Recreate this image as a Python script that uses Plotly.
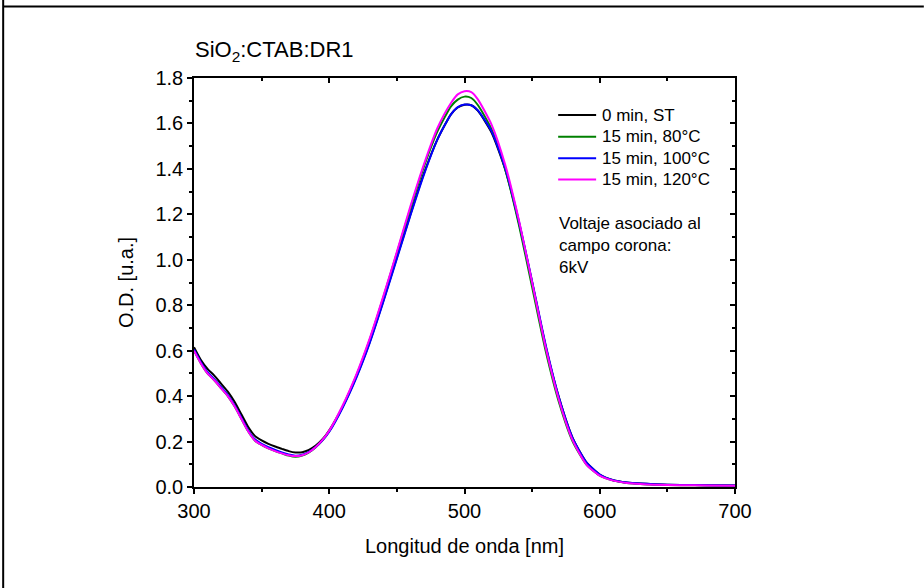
import plotly.graph_objects as go

wavelength = [300, 305, 310, 315, 320, 325, 330, 335, 340, 345, 350, 355, 360, 365, 370, 375,
              380, 385, 390, 395, 400, 410, 420, 430, 440, 450, 460, 470, 480, 490, 495, 500,
              505, 510, 520, 530, 540, 550, 560, 570, 580, 590, 600, 610, 620, 630, 640, 660,
              680, 700]

od_st = [0.615, 0.56, 0.52, 0.49, 0.455, 0.42, 0.375, 0.32, 0.265, 0.225, 0.205, 0.19, 0.178,
         0.168, 0.158, 0.152, 0.153, 0.163, 0.182, 0.21, 0.25, 0.355, 0.485, 0.64, 0.82, 1.01,
         1.2, 1.38, 1.53, 1.64, 1.67, 1.682, 1.68, 1.655, 1.56, 1.40, 1.17, 0.90, 0.62, 0.39,
         0.215, 0.11, 0.055, 0.03, 0.02, 0.015, 0.012, 0.009, 0.008, 0.007]

od_80 = [0.60, 0.545, 0.50, 0.47, 0.435, 0.40, 0.355, 0.30, 0.245, 0.205, 0.185, 0.17, 0.158,
         0.148, 0.138, 0.133, 0.138, 0.152, 0.175, 0.205, 0.245, 0.355, 0.49, 0.65, 0.835, 1.03,
         1.225, 1.41, 1.565, 1.675, 1.705, 1.718, 1.712, 1.68, 1.575, 1.40, 1.16, 0.88, 0.60,
         0.37, 0.20, 0.10, 0.05, 0.028, 0.018, 0.013, 0.01, 0.008, 0.007, 0.006]

od_100 = [0.605, 0.55, 0.505, 0.475, 0.44, 0.405, 0.36, 0.305, 0.25, 0.21, 0.19, 0.175, 0.163,
          0.152, 0.143, 0.138, 0.142, 0.155, 0.176, 0.205, 0.243, 0.35, 0.48, 0.635, 0.815,
          1.005, 1.195, 1.375, 1.53, 1.64, 1.672, 1.683, 1.68, 1.657, 1.565, 1.405, 1.175,
          0.905, 0.625, 0.39, 0.215, 0.11, 0.055, 0.03, 0.02, 0.015, 0.012, 0.009, 0.008, 0.007]

od_120 = [0.60, 0.545, 0.50, 0.47, 0.435, 0.40, 0.355, 0.30, 0.245, 0.205, 0.185, 0.17, 0.158,
          0.148, 0.14, 0.136, 0.14, 0.153, 0.176, 0.207, 0.248, 0.36, 0.495, 0.655, 0.84, 1.035,
          1.235, 1.42, 1.58, 1.69, 1.728, 1.742, 1.738, 1.705, 1.595, 1.42, 1.18, 0.90, 0.615,
          0.38, 0.205, 0.10, 0.05, 0.028, 0.018, 0.013, 0.01, 0.008, 0.007, 0.006]

series_names = ["0 min, ST", "15 min, 80°C", "15 min, 100°C", "15 min, 120°C"]
series_colors = ["#000000", "#008000", "#0000ff", "#ff00ff"]
series_values = [od_st, od_80, od_100, od_120]

FONT = "Liberation Sans, Arial, sans-serif"

fig = go.Figure()
for name, color, vals in zip(series_names, series_colors, series_values):
    fig.add_trace(go.Scatter(x=wavelength, y=vals, mode="lines", name=name,
                             line=dict(color=color, width=2, shape="spline", smoothing=0.6)))

# dummy trace for the mirrored (inward-tick) top and right axes
fig.add_trace(go.Scatter(x=[None], y=[None], xaxis="x2", yaxis="y2", showlegend=False,
                         hoverinfo="skip"))

W, H = 924, 588
L, R, T, B = 193.5, 189, 78, 101.3
pw, ph = W - L - R, H - T - B

def px(xp):
    return (xp - L) / pw

def py(yp):
    return (H - B - yp) / ph

axis_common = dict(showgrid=False, zeroline=False, showline=True, linecolor="black",
                   linewidth=1.5, tickcolor="black", tickwidth=1.5, ticklen=5)

fig.update_layout(
    width=W, height=H,
    margin=dict(l=L, r=R, t=T, b=B, pad=0),
    paper_bgcolor="white", plot_bgcolor="white",
    font=dict(family=FONT, size=20, color="black"),
    xaxis=dict(range=[300, 700], ticks="outside", dtick=100, tick0=300,
               minor=dict(ticks="outside", ticklen=3, dtick=50, tickcolor="black", tickwidth=1.5),
               title=dict(text="Longitud de onda [nm]", font=dict(size=20), standoff=18),
               tickfont=dict(size=20), **axis_common),
    yaxis=dict(range=[0, 1.8], ticks="outside", dtick=0.2, tickformat=".1f",
               minor=dict(ticks="outside", ticklen=3, dtick=0.1, tickcolor="black", tickwidth=1.5),
               title=dict(text="O.D. [u.a.]", font=dict(size=20), standoff=16),
               tickfont=dict(size=20), **axis_common),
    xaxis2=dict(range=[300, 700], overlaying="x", side="top", ticks="inside", dtick=100,
                tick0=300, showticklabels=False,
                minor=dict(ticks="inside", ticklen=3, dtick=50, tickcolor="black", tickwidth=1.5),
                **axis_common),
    yaxis2=dict(range=[0, 1.8], overlaying="y", side="right", ticks="inside", dtick=0.2,
                showticklabels=False,
                minor=dict(ticks="inside", ticklen=3, dtick=0.1, tickcolor="black", tickwidth=1.5),
                **axis_common),
    showlegend=False,
)

# legend drawn as line samples + labels (Origin-style compact spacing)
leg_y = [115, 136.7, 158.3, 179.5]
for name, color, yy in zip(series_names, series_colors, leg_y):
    fig.add_shape(type="line", xref="paper", yref="paper", x0=px(558), x1=px(596),
                  y0=py(yy), y1=py(yy), line=dict(color=color, width=2))
    fig.add_annotation(x=px(600), y=py(yy), xref="paper", yref="paper", xanchor="left",
                       yanchor="middle", showarrow=False, align="left", text=name,
                       font=dict(family=FONT, size=17, color="black"))

fig.add_annotation(x=px(192), y=py(67), xref="paper", yref="paper", xanchor="left",
                   yanchor="bottom", showarrow=False, align="left",
                   text="SiO<sub>2</sub>:CTAB:DR1", font=dict(family=FONT, size=22))

fig.add_annotation(x=px(557), y=py(212), xref="paper", yref="paper", xanchor="left",
                   yanchor="top", showarrow=False, align="left",
                   text="Voltaje asociado al<br>campo corona:<br>6kV",
                   font=dict(family=FONT, size=17))

# outer frame lines of the figure
fig.add_shape(type="line", xref="paper", yref="paper", x0=px(2.5), x1=px(2.5), y0=py(0), y1=py(H),
              line=dict(color="black", width=2))
fig.add_shape(type="line", xref="paper", yref="paper", x0=px(2.5), x1=px(W), y0=py(6.5), y1=py(6.5),
              line=dict(color="black", width=2))

fig.write_html("out.html")
